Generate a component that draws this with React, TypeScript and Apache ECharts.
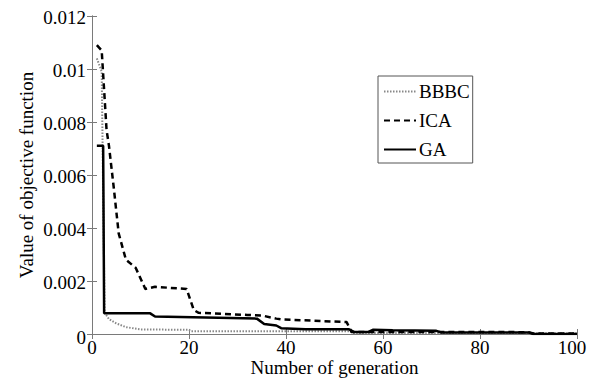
import React, { useEffect, useRef } from "react";
import * as echarts from "echarts";

const seriesNames = ["BBBC", "ICA", "GA"];

const bbbcData: [number, number][] = [
  [1, 0.0104], [2, 0.0099], [2.6, 0.0008], [3.5, 0.00056], [5, 0.0004], [7, 0.00026],
  [10, 0.00017], [20, 0.00016], [20.5, 0.0001], [53, 0.0001], [54, 0.00004], [100, 0.00003],
];

const icaData: [number, number][] = [
  [1, 0.0109], [2, 0.0107], [3, 0.0077], [3.5, 0.0071], [4.5, 0.0055], [5.5, 0.0038],
  [7, 0.0028], [9, 0.0025], [11, 0.0017], [13, 0.00178], [19.5, 0.0017], [21, 0.0009],
  [22, 0.0008], [32, 0.00072], [35, 0.0007], [38, 0.00058], [39, 0.00055], [52.5, 0.00045],
  [53.5, 0.00008], [90, 0.00007], [91, 0.00002], [100, 0.00002],
];

const gaData: [number, number][] = [
  [1, 0.0071], [2.3, 0.0071], [2.5, 0.00078], [12, 0.00078], [13, 0.00066], [34, 0.00058],
  [35.5, 0.00038], [38, 0.00032], [39, 0.00022], [44, 0.00018], [53, 0.00018], [54, 0.00008],
  [57, 0.00008], [58, 0.00016], [62, 0.00014], [71, 0.00012], [72, 0.00006], [90, 0.00006],
  [91, 0], [100, 0],
];

const xTicks = [0, 20, 40, 60, 80, 100];
const yTicks = [0, 0.002, 0.004, 0.006, 0.008, 0.01, 0.012];
const yTickLabels = ["0", "0.002", "0.004", "0.006", "0.008", "0.01", "0.012"];

const FONT = "Liberation Serif";
const FS = 19;
const AXIS_COLOR = "#7a7a7a";

export default function App() {
  const ref = useRef<HTMLDivElement>(null);
  useEffect(() => {
    if (!ref.current) return;
    const chart = echarts.init(ref.current, undefined, { renderer: "svg" });
    const commonAxis = {
      axisLine: { show: true, lineStyle: { color: AXIS_COLOR, width: 1 } },
      axisTick: { show: true, inside: true, length: 5, lineStyle: { color: AXIS_COLOR } },
      splitLine: { show: false },
      axisLabel: { show: false },
    };
    chart.setOption({
      animation: false,
      backgroundColor: "#ffffff",
      textStyle: { fontFamily: FONT, fontSize: FS },
      grid: { left: 92, right: 12, top: 16, bottom: 46, outerBoundsMode: "none", containLabel: false },
      legend: {
        data: seriesNames,
        orient: "vertical",
        left: 378,
        top: 76,
        itemWidth: 32,
        itemHeight: 14,
        itemGap: 10,
        padding: [6, 3, 4, 5],
        borderColor: "#555",
        borderWidth: 1,
        backgroundColor: "#fff",
        itemStyle: { opacity: 0 },
        textStyle: { fontFamily: FONT, fontSize: FS, color: "#000", padding: [0, 0, 0, -2] },
      },
      xAxis: [
        {
          type: "value",
          min: xTicks[0],
          max: xTicks[xTicks.length - 1],
          interval: 20,
          name: "Number of generation",
          nameLocation: "middle",
          nameGap: 24,
          nameMoveOverlap: false,
          nameTextStyle: { fontFamily: FONT, fontSize: FS, color: "#000", lineHeight: 19 },
          ...commonAxis,
        },
        {
          type: "value",
          position: "top",
          min: xTicks[0],
          max: xTicks[xTicks.length - 1],
          interval: 20,
          ...commonAxis,
        },
      ],
      yAxis: [
        {
          type: "value",
          min: yTicks[0],
          max: yTicks[yTicks.length - 1],
          interval: 0.002,
          name: "Value of objective function",
          nameLocation: "middle",
          nameGap: 56,
          nameMoveOverlap: false,
          nameTextStyle: { fontFamily: FONT, fontSize: FS, color: "#000" },
          ...commonAxis,
        },
        {
          type: "value",
          position: "right",
          min: yTicks[0],
          max: yTicks[yTicks.length - 1],
          interval: 0.002,
          ...commonAxis,
        },
      ],
      series: [
        {
          name: "BBBC",
          type: "line",
          data: bbbcData,
          showSymbol: false,
          symbol: "none",
          lineStyle: { color: "#888", width: 2, type: [1.5, 1.5] },
          itemStyle: { color: "#888" },
          z: 1,
        },
        {
          name: "ICA",
          type: "line",
          data: icaData,
          showSymbol: false,
          symbol: "none",
          lineStyle: { color: "#000", width: 2.5, type: [6, 4] },
          itemStyle: { color: "#000" },
          z: 2,
        },
        {
          name: "GA",
          type: "line",
          data: gaData,
          showSymbol: false,
          symbol: "none",
          lineStyle: { color: "#000", width: 2.5, type: "solid" },
          itemStyle: { color: "#000" },
          z: 3,
        },
      ],
    });

    // Tick labels placed through the axes' own scales
    const yBottom = chart.convertToPixel({ yAxisIndex: 0 }, yTicks[0]) as number;
    const xLeft = chart.convertToPixel({ xAxisIndex: 0 }, xTicks[0]) as number;
    const labelStyle = { fontFamily: FONT, fontSize: FS, fill: "#000", lineHeight: 19 };
    const graphics: any[] = [];
    xTicks.forEach((v, i) => {
      const px = chart.convertToPixel({ xAxisIndex: 0 }, v) as number;
      graphics.push({
        type: "text",
        x: i === xTicks.length - 1 ? px - 5 : px,
        y: yBottom + 4,
        style: { ...labelStyle, text: String(v), textAlign: "center", textVerticalAlign: "top" },
      });
    });
    yTicks.forEach((v, i) => {
      const py = chart.convertToPixel({ yAxisIndex: 0 }, v) as number;
      graphics.push({
        type: "text",
        x: xLeft - 6,
        y: i === 0 ? py + 3 : py + 1,
        style: { ...labelStyle, text: yTickLabels[i], textAlign: "right", textVerticalAlign: "middle" },
      });
    });
    chart.setOption({ graphic: graphics });

    return () => chart.dispose();
  }, []);
  return <div ref={ref} style={{ width: 589, height: 380, position: "fixed", left: 0, top: 0 }} />;
}
